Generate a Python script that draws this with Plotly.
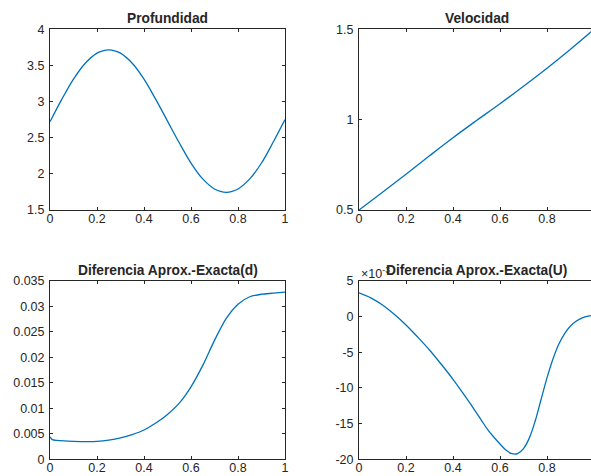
import plotly.graph_objects as go

# ---- data ----
x_prof = [0, 0.05, 0.1, 0.15, 0.2, 0.225, 0.25, 0.275, 0.3, 0.35, 0.4, 0.45, 0.5,
          0.55, 0.6, 0.65, 0.7, 0.725, 0.75, 0.775, 0.8, 0.85, 0.9, 0.95, 1.0]
profundidad = [2.72, 3.03, 3.31, 3.53, 3.67, 3.703, 3.715, 3.703, 3.67, 3.53, 3.31, 3.03, 2.73,
               2.43, 2.15, 1.93, 1.79, 1.757, 1.745, 1.757, 1.79, 1.93, 2.15, 2.44, 2.75]

x_vel = [0, 0.1, 0.2, 0.3, 0.4, 0.5, 0.6, 0.7, 0.8, 0.9, 1.0]
velocidad = [0.5, 0.598, 0.698, 0.800, 0.900, 0.995, 1.088, 1.185, 1.285, 1.39, 1.5]

x_dd = [0, 0.01, 0.03, 0.06, 0.1, 0.15, 0.2, 0.25, 0.3, 0.35, 0.4, 0.45, 0.5,
        0.55, 0.6, 0.65, 0.7, 0.75, 0.8, 0.85, 0.9, 0.95, 1.0]
diff_d = [0.00440, 0.00385, 0.00370, 0.00360, 0.00353, 0.00348, 0.00352, 0.00375,
          0.00418, 0.00484, 0.00574, 0.00710, 0.00880, 0.01100, 0.01420, 0.01840,
          0.02330, 0.02760, 0.03040, 0.03185, 0.03235, 0.03255, 0.03278]

x_du = [0, 0.05, 0.1, 0.15, 0.2, 0.25, 0.3, 0.35, 0.4, 0.45, 0.5,
        0.525, 0.55, 0.575, 0.6, 0.625, 0.65, 0.675, 0.7, 0.725, 0.75, 0.775,
        0.8, 0.825, 0.85, 0.875, 0.9, 0.925, 0.95, 0.975, 1.0]
diff_U_e3 = [3.3, 2.6, 1.6, 0.3, -1.2, -2.9, -4.7, -6.7, -8.8, -11.1, -13.5,
             -14.75, -15.95, -16.95, -17.85, -18.7, -19.2, -19.2, -18.5, -17.0, -14.6, -11.6,
             -8.6, -6.0, -3.9, -2.4, -1.35, -0.65, -0.2, 0.05, 0.15]

titles = ["Profundidad", "Velocidad", "Diferencia Aprox.-Exacta(d)", "Diferencia Aprox.-Exacta(U)"]
x_ticks = [0, 0.2, 0.4, 0.6, 0.8, 1.0]
x_ticktext = ["0", "0.2", "0.4", "0.6", "0.8", "1"]

W, H = 591, 476
BLUE = "#0072BD"
DARK = "#262626"
FONT = "Liberation Sans, Arial, Helvetica, sans-serif"


def px(x):
    return x / W


def py(y):
    return 1 - y / H


L_COL = (50, 285)
R_COL = (359, 591)
T_ROW = (29.3, 210)
B_ROW = (280.7, 459.3)
AX_W = 235.0  # pixel length of a unit x range

fig = go.Figure()
line = dict(color=BLUE, width=1.3, shape="spline", smoothing=1.0)
line_d = dict(color=BLUE, width=1.3, shape="spline", smoothing=0.8)
fig.add_trace(go.Scatter(x=x_prof, y=profundidad, mode="lines", line=line,
                         xaxis="x", yaxis="y", showlegend=False))
fig.add_trace(go.Scatter(x=x_vel, y=velocidad, mode="lines", line=line,
                         xaxis="x2", yaxis="y2", showlegend=False))
fig.add_trace(go.Scatter(x=x_dd, y=diff_d, mode="lines", line=line_d,
                         xaxis="x3", yaxis="y3", showlegend=False))
fig.add_trace(go.Scatter(x=x_du, y=diff_U_e3, mode="lines", line=line,
                         xaxis="x4", yaxis="y4", showlegend=False))

tickfont = dict(family=FONT, size=12.5, color=DARK)


def xax(dom, anchor, rng):
    return dict(domain=[px(dom[0]), px(dom[1])], anchor=anchor, range=rng,
                tickvals=x_ticks, ticktext=x_ticktext,
                ticks="inside", ticklen=3, tickcolor=DARK, tickwidth=1,
                showline=True, linecolor=DARK, linewidth=1, mirror="ticks",
                showgrid=False, zeroline=False, tickfont=tickfont, fixedrange=True,
                automargin=False, ticklabelstandoff=-3)


def yax(dom, anchor, rng, vals, mirror=True):
    return dict(domain=[py(dom[1]), py(dom[0])], anchor=anchor, range=rng,
                tickvals=vals, ticktext=[("%g" % v) for v in vals],
                ticks="inside", ticklen=3, tickcolor=DARK, tickwidth=1,
                showline=True, linecolor=DARK, linewidth=1, mirror="ticks" if mirror else False,
                showgrid=False, zeroline=False, tickfont=tickfont, fixedrange=True,
                automargin=False, ticklabelstandoff=2)


rmax = (R_COL[1] - R_COL[0]) / AX_W

fig.update_layout(
    width=W, height=H,
    margin=dict(l=0, r=0, t=0, b=0),
    paper_bgcolor="white", plot_bgcolor="white",
    xaxis=xax(L_COL, "y", [0, 1]),
    yaxis=yax(T_ROW, "x", [1.5, 4], [1.5, 2, 2.5, 3, 3.5, 4]),
    xaxis2=xax(R_COL, "y2", [0, rmax]),
    yaxis2=yax(T_ROW, "x2", [0.5, 1.5], [0.5, 1, 1.5], mirror=False),
    xaxis3=xax(L_COL, "y3", [0, 1]),
    yaxis3=yax(B_ROW, "x3", [0, 0.035], [0, 0.005, 0.01, 0.015, 0.02, 0.025, 0.03, 0.035]),
    xaxis4=xax(R_COL, "y4", [0, rmax]),
    yaxis4=yax(B_ROW, "x4", [-20, 5], [-20, -15, -10, -5, 0, 5], mirror=False),
)

# exponent label (drawn first so the title overlaps it)
fig.add_annotation(x=px(359), y=py(273), xref="paper", yref="paper", xanchor="left", yanchor="middle",
                   text="×10<sup>-3</sup>", showarrow=False,
                   font=dict(family=FONT, size=12.5, color=DARK))

title_font = dict(family=FONT, size=13.75, color=DARK)
centers = [((50 + 285) / 2, 18.5), ((359 + 594) / 2, 18.5), ((50 + 285) / 2, 270), ((359 + 594) / 2, 270)]
for t, (cx, cy) in zip(titles, centers):
    fig.add_annotation(x=px(cx), y=py(cy), xref="paper", yref="paper", xanchor="center", yanchor="middle",
                       text="<b>%s</b>" % t, showarrow=False, font=title_font)

fig.write_html("out.html", config={"displayModeBar": False},
               post_script="document.body.style.margin='0';document.body.style.overflow='hidden';")
